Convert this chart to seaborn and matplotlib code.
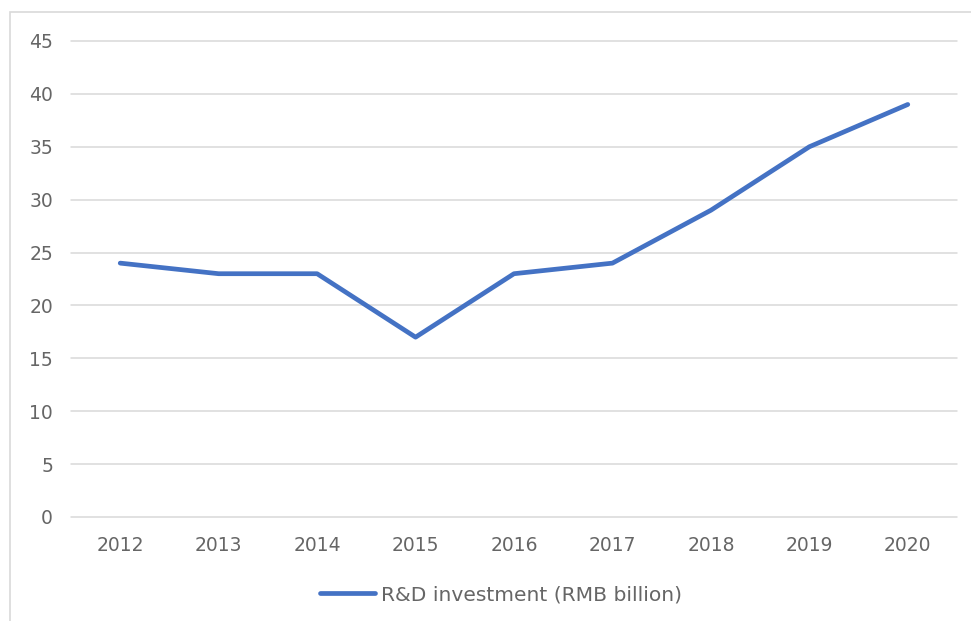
import matplotlib
matplotlib.use("Agg")
import matplotlib.pyplot as plt
import seaborn as sns
import pandas as pd
from matplotlib.patches import Rectangle

years = ["2012", "2013", "2014", "2015", "2016", "2017", "2018", "2019", "2020"]
values = [24, 23, 23, 17, 23, 24, 29, 35, 39]
series_name = "R&D investment (RMB billion)"
yticks = [0, 5, 10, 15, 20, 25, 30, 35, 40, 45]

df = pd.DataFrame({"year": years, "value": values, "series": series_name})

sns.set_theme(style="white")
plt.rcParams['font.family'] = ['DejaVu Sans']

fig = plt.figure(figsize=(9.71, 6.21), dpi=100)
ax = fig.add_axes([71/971, 1-517/621, (957-71)/971, (517-41)/621])

sns.lineplot(data=df, x="year", y="value", hue="series", palette=["#4472C4"],
             linewidth=3.4, ax=ax, sort=False, solid_capstyle="round", zorder=3)

ax.set_xlim(-0.5, len(years) - 0.5)
ax.set_ylim(0, 45)
ax.set_yticks(yticks)
ax.yaxis.grid(True, color="#D9D9D9", linewidth=1.1)
ax.xaxis.grid(False)
for gl in ax.get_ygridlines():
    gl.set_clip_on(False)
for s in ax.spines.values():
    s.set_visible(False)
ax.tick_params(axis="both", length=0, labelsize=13.5, colors="#666666")
ax.tick_params(axis="y", pad=13)
ax.tick_params(axis="x", pad=14)
ax.set_xlabel("")
ax.set_ylabel("")

handles, labels = ax.get_legend_handles_labels()
leg = ax.legend(handles, labels, loc="center", bbox_to_anchor=(0.485, -0.163),
                frameon=False, fontsize=14.6, handlelength=2.7, handletextpad=0.3)
for t in leg.get_texts():
    t.set_color("#666666")
for l in leg.get_lines():
    l.set_linewidth(3.4)
    l.set_solid_capstyle("round")

fig.patches.append(Rectangle((10/971, -0.1), 1.2, 1 - 12/621 + 0.1, transform=fig.transFigure,
                             fill=False, edgecolor="#D9D9D9", linewidth=1.2))

fig.savefig("out.png", dpi=100)
